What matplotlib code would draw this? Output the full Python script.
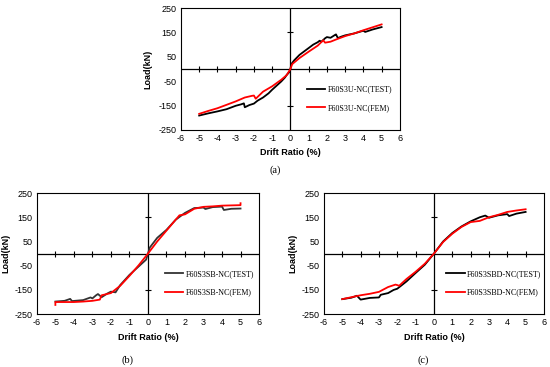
import matplotlib.pyplot as plt

plt.rcParams['axes.unicode_minus'] = False

# (a) F60S3U-NC
a_test_x = [-5, -4.5, -4, -3.5, -3, -2.7, -2.55, -2.5, -2.25, -2, -1.8, -1.5, -1.2, -1, -0.75, -0.5, -0.3, -0.2, -0.05, 0,
            0.05, 0.2, 0.5, 0.75, 1, 1.25, 1.5, 1.6, 1.7, 1.9, 2, 2.2, 2.45, 2.5, 2.6, 2.8, 3, 3.5, 4, 4.1, 4.5, 5]
a_test_y = [-191, -182, -174, -165, -151, -145, -141, -157, -148, -142, -130, -117, -100, -85, -68, -51, -35, -24, -12, 0,
            20, 35, 58, 72, 86, 100, 110, 116, 112, 126, 131, 128, 140, 142, 127, 133, 138, 146, 157, 152, 162, 172]
a_fem_x = [-5, -4.5, -4, -3.5, -3, -2.5, -2.1, -2, -1.9, -1.5, -1, -0.5, -0.2, 0,
           0.1, 0.5, 1, 1.5, 1.8, 1.9, 2.2, 2.5, 3, 3.5, 4, 4.5, 5]
a_fem_y = [-184, -172, -161, -147, -133, -117, -110, -109, -122, -93, -71, -44, -25, 0,
           20, 45, 71, 96, 118, 108, 112, 121, 135, 146, 159, 171, 183]

# (b) F60S3SB-NC
b_test_x = [-5, -4.5, -4.2, -4.1, -3.5, -3.1, -3, -2.8, -2.7, -2.5, -2.2, -2, -1.75, -1.5, -1, -0.5, -0.1, 0,
            0.1, 0.5, 1, 1.5, 2, 2.5, 3, 3.1, 3.5, 4, 4.1, 4.5, 5]
b_test_y = [-198, -195, -187, -196, -192, -181, -185, -172, -167, -180, -165, -157, -160, -130, -88, -53, -25, 0,
            25, 65, 98, 140, 168, 188, 190, 184, 192, 194, 180, 185, 186]
b_fem_x = [-5, -5, -4.5, -4, -3.5, -3, -2.6, -2.5, -2, -1.5, -1, -0.5, 0,
           0.5, 1, 1.5, 1.7, 2, 2.5, 3, 3.5, 4, 4.5, 5, 5]
b_fem_y = [-212, -200, -200, -200, -198, -195, -190, -172, -163, -133, -92, -48, 0,
           50, 95, 140, 158, 162, 185, 193, 195, 198, 199, 200, 208]

# (c) F60S3SBD-NC
c_test_x = [-5, -4.5, -4.2, -4, -3.5, -3, -2.9, -2.5, -2.2, -2, -1.5, -1, -0.5, 0,
            0.5, 1, 1.5, 2, 2.5, 2.8, 3, 3.5, 4, 4.1, 4.5, 5]
c_test_y = [-188, -182, -174, -190, -183, -181, -170, -163, -150, -145, -115, -80, -46, 0,
            50, 85, 112, 133, 150, 157, 148, 158, 163, 155, 165, 172]
c_fem_x = [-5, -4.5, -4, -3.5, -3, -2.5, -2.1, -2, -1.9, -1.5, -1, -0.5, 0,
           0.5, 1, 1.5, 2, 2.5, 3, 3.5, 4, 4.5, 5]
c_fem_y = [-188, -180, -172, -166, -158, -138, -128, -130, -133, -105, -75, -42, 0,
           48, 82, 110, 130, 135, 150, 160, 172, 178, 183]

x_ticks = list(range(-6, 7))
y_ticks = [-250, -150, -50, 50, 150, 250]

SANS = 'Liberation Sans'
SERIF = 'Liberation Serif'


def draw_panel(ax, tx, ty, fx, fy, name, test_color, leg_x):
    ax.set_xlim(-6, 6)
    ax.set_ylim(-250, 250)
    ax.axhline(0, color='black', lw=0.9, zorder=1)
    ax.axvline(0, color='black', lw=0.9, zorder=1)
    # ticks on the central axes
    ax.plot([v for v in range(-5, 6) if v != 0], [0] * 10, ls='none', marker='|',
            color='black', ms=4, mew=0.8, zorder=1)
    ax.plot([0, 0], [150, -150], ls='none', marker='_', color='black', ms=4, mew=0.8, zorder=1)

    ax.plot(tx, ty, color=test_color, lw=1.3, label=name + '(TEST)', zorder=3)
    ax.plot(fx, fy, color='#ff0000', lw=1.3, label=name + '(FEM)', zorder=4)

    ax.set_xticks(x_ticks)
    ax.set_yticks(y_ticks)
    ax.tick_params(length=0, labelsize=6.5, pad=3)
    for lab in ax.get_xticklabels() + ax.get_yticklabels():
        lab.set_family(SANS)
    for s in ax.spines.values():
        s.set_linewidth(0.8)
    ax.set_xlabel('Drift Ratio (%)', fontsize=6.5, fontweight='bold', family=SANS)
    ax.set_ylabel('Load(kN)', fontsize=6.5, fontweight='bold', family=SANS)
    ax.legend(loc='upper left', bbox_to_anchor=(leg_x, 0.39), frameon=False,
              prop={'family': SERIF, 'size': 5.8}, handlelength=2.3, handletextpad=0.3,
              labelspacing=1.3, borderaxespad=0)


fig = plt.figure(figsize=(5.5, 3.67), dpi=100)
ax_a = fig.add_axes([0.329, 0.646, 0.398, 0.332])
ax_b = fig.add_axes([0.067, 0.144, 0.404, 0.330])
ax_c = fig.add_axes([0.589, 0.144, 0.400, 0.330])

draw_panel(ax_a, a_test_x, a_test_y, a_fem_x, a_fem_y, 'F60S3U-NC', 'black', 0.56)
draw_panel(ax_b, b_test_x, b_test_y, b_fem_x, b_fem_y, 'F60S3SB-NC', '#333333', 0.56)
draw_panel(ax_c, c_test_x, c_test_y, c_fem_x, c_fem_y, 'F60S3SBD-NC', 'black', 0.54)

ax_a.yaxis.set_label_coords(-0.13, 0.5)
ax_a.xaxis.set_label_coords(0.5, -0.15)
for ax in (ax_b, ax_c):
    ax.yaxis.set_label_coords(-0.12, 0.5)
    ax.xaxis.set_label_coords(0.5, -0.155)

fig.text(275 / 550, 1 - 170 / 367, '(a)', ha='center', va='center', family=SERIF, fontsize=7.5)
fig.text(127 / 550, 1 - 360 / 367, '(b)', ha='center', va='center', family=SERIF, fontsize=7.5)
fig.text(423 / 550, 1 - 360 / 367, '(c)', ha='center', va='center', family=SERIF, fontsize=7.5)

fig.savefig('out.png', dpi=100)
